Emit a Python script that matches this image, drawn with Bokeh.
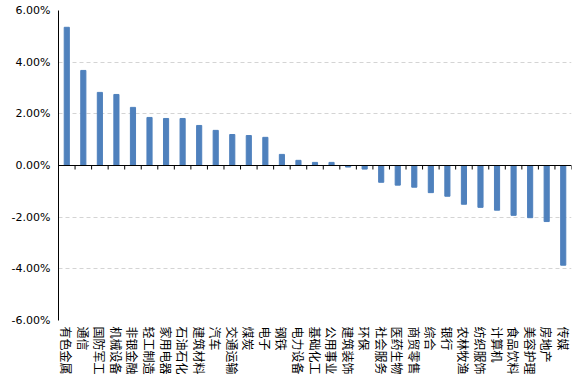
import math
from bokeh.plotting import figure
from bokeh.models import Span, FixedTicker, NumeralTickFormatter, Range1d
from bokeh.embed import file_html
from bokeh.resources import INLINE

categories = ["有色金属", "通信", "国防军工", "机械设备", "非银金融", "轻工制造", "家用电器",
              "石油石化", "建筑材料", "汽车", "交通运输", "煤炭", "电子", "钢铁", "电力设备",
              "基础化工", "公用事业", "建筑装饰", "环保", "社会服务", "医药生物", "商贸零售",
              "综合", "银行", "农林牧渔", "纺织服饰", "计算机", "食品饮料", "美容护理",
              "房地产", "传媒"]
values_pct = [5.35, 3.68, 2.83, 2.75, 2.25, 1.86, 1.82, 1.82, 1.55, 1.36, 1.20, 1.16, 1.09,
              0.43, 0.20, 0.12, 0.12, -0.06, -0.14, -0.65, -0.76, -0.84, -1.05, -1.19, -1.50,
              -1.62, -1.73, -1.93, -2.02, -2.17, -3.86]
y_ticks_pct = [-6, -4, -2, 0, 2, 4, 6]

n = len(categories)
xs = list(range(1, n + 1))
vals = [v / 100.0 for v in values_pct]
yt = [t / 100.0 for t in y_ticks_pct]

p = figure(frame_width=513, frame_height=310, output_backend="svg", toolbar_location=None,
           x_range=Range1d(0.5, n + 0.5), y_range=Range1d(yt[0], yt[-1]),
           min_border_left=58, min_border_right=4, min_border_top=10, min_border_bottom=0)
p.outline_line_color = None
p.background_fill_color = "white"
p.border_fill_color = "white"

p.vbar(x=xs, top=vals, bottom=0, width=0.31, color="#4f81bd")

# zero axis line with downward ticks between categories
p.add_layout(Span(location=0, dimension="width", line_color="black", line_width=1))
bounds = [i + 0.5 for i in range(0, n + 1)]
p.ray(x=bounds, y=[0] * len(bounds), length=4, length_units="screen", angle=-math.pi / 2,
      line_color="black", line_width=1)

# x axis: labels only (at bottom)
p.xaxis.ticker = FixedTicker(ticks=xs)
p.xaxis.major_label_overrides = {x: c for x, c in zip(xs, categories)}
p.xaxis.major_label_orientation = "vertical"
p.xaxis.axis_line_color = None
p.xaxis.major_tick_line_color = None
p.xaxis.minor_tick_line_color = None
p.xaxis.major_tick_in = 0
p.xaxis.major_tick_out = 0
p.xaxis.major_label_standoff = 6
p.xaxis.major_label_text_font = "Noto Sans CJK SC"
p.xaxis.major_label_text_font_size = "12px"
p.xaxis.major_label_text_color = "#000000"
p.xgrid.visible = False

# y axis
p.yaxis.ticker = FixedTicker(ticks=yt)
p.yaxis.formatter = NumeralTickFormatter(format="0.00%")
p.yaxis.axis_line_color = "black"
p.yaxis.major_tick_line_color = None
p.yaxis.minor_tick_line_color = None
p.yaxis.major_tick_in = 0
p.yaxis.major_tick_out = 0
p.yaxis.major_label_standoff = 8
p.yaxis.major_label_text_font = "DejaVu Sans"
p.yaxis.major_label_text_font_size = "11px"
p.yaxis.major_label_text_color = "#000000"

p.ygrid.ticker = FixedTicker(ticks=[t for t in yt if t != 0])
p.ygrid.grid_line_color = "#d4d4d4"
p.ygrid.grid_line_dash = "4 3"
p.ygrid.grid_line_width = 1

open("out.html", "w").write(file_html(p, INLINE))
